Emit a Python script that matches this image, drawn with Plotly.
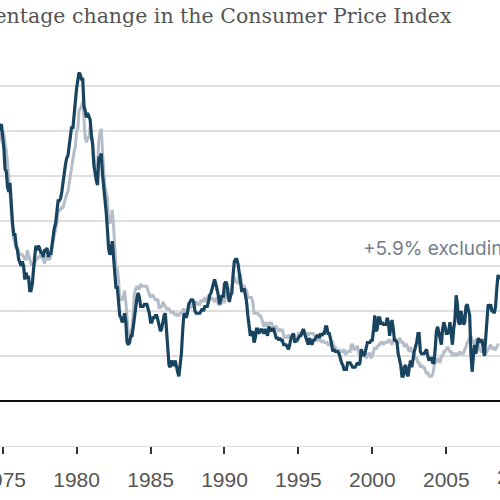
import pandas as pd
import plotly.graph_objects as go

start_month = "1974-09-01"

# Year-over-year % change, all items (monthly, from Sep 1974)
all_items = [
    11.9, 12.1, 12.2, 12.3,                                            # 1974 Sep-Dec
    11.8, 11.2, 10.3, 10.2, 9.5, 9.3, 9.7, 8.6, 7.9, 7.4, 7.4, 6.9,    # 1975
    6.7, 6.3, 6.1, 6.0, 6.2, 6.0, 5.4, 5.7, 5.5, 5.5, 4.9, 4.9,        # 1976
    5.2, 6.0, 6.4, 6.9, 6.7, 6.9, 6.8, 6.6, 6.6, 6.4, 6.7, 6.7,        # 1977
    6.8, 6.4, 6.6, 6.5, 7.0, 7.4, 7.7, 7.9, 8.3, 8.9, 8.9, 9.0,        # 1978
    9.3, 9.9, 10.1, 10.5, 10.8, 10.9, 11.3, 11.8, 12.2, 12.1, 12.6, 13.3,  # 1979
    13.9, 14.2, 14.6, 14.5, 14.3, 14.3, 13.1, 12.9, 12.6, 12.8, 12.6, 12.5,  # 1980
    11.8, 11.4, 10.5, 10.0, 9.8, 9.6, 10.8, 10.8, 11.0, 10.1, 9.6, 8.9,  # 1981
    8.4, 7.6, 6.8, 6.5, 6.7, 7.1, 6.4, 5.9, 5.0, 5.1, 4.6, 3.8,        # 1982
    3.7, 3.5, 3.6, 3.9, 3.5, 2.6, 2.5, 2.6, 2.9, 2.9, 3.3, 3.8,        # 1983
    4.2, 4.6, 4.8, 4.6, 4.2, 4.2, 4.2, 4.3, 4.3, 4.3, 4.1, 3.9,        # 1984
    3.5, 3.5, 3.7, 3.7, 3.8, 3.8, 3.6, 3.3, 3.1, 3.2, 3.5, 3.8,        # 1985
    3.9, 3.1, 2.3, 1.6, 1.5, 1.8, 1.6, 1.6, 1.8, 1.5, 1.3, 1.1,        # 1986
    1.5, 2.1, 3.0, 3.8, 3.9, 3.7, 3.9, 4.3, 4.4, 4.5, 4.5, 4.4,        # 1987
    4.0, 3.9, 3.9, 3.9, 3.9, 4.0, 4.1, 4.0, 4.2, 4.2, 4.2, 4.4,        # 1988
    4.7, 4.8, 5.0, 5.1, 5.4, 5.2, 5.0, 4.7, 4.3, 4.5, 4.7, 4.6,        # 1989
    5.2, 5.3, 5.2, 4.7, 4.4, 4.7, 4.8, 5.6, 6.2, 6.3, 6.3, 6.1,        # 1990
    5.7, 5.3, 4.9, 4.9, 5.0, 4.7, 4.4, 3.8, 3.4, 2.9, 3.0, 3.1,        # 1991
    2.6, 2.8, 3.2, 3.2, 3.0, 3.1, 3.2, 3.1, 3.0, 3.2, 3.0, 2.9,        # 1992
    3.3, 3.2, 3.1, 3.2, 3.2, 3.0, 2.8, 2.8, 2.7, 2.8, 2.7, 2.7,        # 1993
    2.5, 2.5, 2.5, 2.4, 2.3, 2.5, 2.8, 2.9, 3.0, 2.6, 2.7, 2.7,        # 1994
    2.8, 2.9, 2.9, 3.1, 3.2, 3.0, 2.8, 2.6, 2.5, 2.8, 2.6, 2.5,        # 1995
    2.7, 2.7, 2.8, 2.9, 2.9, 2.8, 3.0, 2.9, 3.0, 3.0, 3.3, 3.3,        # 1996
    3.0, 3.0, 2.8, 2.5, 2.2, 2.3, 2.2, 2.2, 2.2, 2.1, 1.8, 1.7,        # 1997
    1.6, 1.4, 1.4, 1.4, 1.7, 1.7, 1.7, 1.6, 1.5, 1.5, 1.5, 1.6,        # 1998
    1.7, 1.6, 1.7, 2.3, 2.1, 2.0, 2.1, 2.3, 2.6, 2.6, 2.6, 2.7,        # 1999
    2.7, 3.2, 3.8, 3.1, 3.2, 3.7, 3.7, 3.4, 3.5, 3.4, 3.4, 3.4,        # 2000
    3.7, 3.5, 2.9, 3.3, 3.6, 3.2, 2.7, 2.7, 2.6, 2.1, 1.9, 1.6,        # 2001
    1.1, 1.1, 1.5, 1.6, 1.2, 1.1, 1.5, 1.8, 1.5, 2.0, 2.2, 2.4,        # 2002
    2.6, 3.0, 3.0, 2.2, 2.1, 2.1, 2.1, 2.2, 2.3, 2.0, 1.8, 1.9,        # 2003
    1.9, 1.7, 1.7, 2.3, 3.1, 3.3, 3.0, 2.7, 2.5, 3.2, 3.5, 3.3,        # 2004
    3.0, 3.0, 3.1, 3.5, 2.8, 2.5, 3.2, 3.6, 4.7, 4.3, 3.5, 3.4,        # 2005
    4.0, 3.6, 3.4, 3.5, 4.2, 4.3, 4.1, 3.8, 2.1, 1.3, 2.0, 2.5,        # 2006
    2.1, 2.4, 2.8, 2.6, 2.7, 2.7, 2.4, 2.0, 2.8, 3.5, 4.3, 4.1,        # 2007
    4.3, 4.0, 4.0, 3.9, 4.2, 5.0, 5.6, 5.4,                            # 2008 Jan-Aug
]

# Year-over-year % change, excluding food and energy (monthly, from Sep 1974)
core = [
    11.2, 11.5, 11.8, 11.9,                                            # 1974 Sep-Dec
    12.0, 11.8, 11.5, 11.1, 10.6, 10.0, 9.2, 8.4, 7.6, 7.2, 7.0, 6.8,  # 1975
    6.8, 6.6, 6.5, 6.5, 6.5, 6.4, 6.3, 6.3, 6.7, 6.5, 6.3, 6.1,        # 1976
    6.1, 6.0, 6.1, 6.3, 6.3, 6.4, 6.4, 6.5, 6.4, 6.3, 6.1, 6.4,        # 1977
    6.3, 6.3, 6.3, 6.4, 6.8, 7.1, 7.4, 7.6, 7.9, 8.4, 8.5, 8.5,        # 1978
    8.6, 8.6, 8.8, 8.9, 9.2, 9.3, 9.7, 10.1, 10.4, 10.8, 11.1, 11.3,   # 1979
    12.0, 12.1, 12.9, 13.0, 13.1, 13.3, 12.4, 11.7, 11.5, 11.7, 11.7, 12.2,  # 1980
    11.9, 11.5, 10.9, 10.4, 10.1, 10.2, 11.6, 11.9, 12.1, 11.1, 10.1, 9.5,   # 1981
    9.3, 9.0, 8.1, 7.9, 8.0, 8.5, 7.8, 7.0, 5.9, 5.9, 5.4, 4.5,        # 1982
    4.5, 4.5, 4.7, 4.9, 4.4, 3.4, 3.0, 3.0, 3.1, 3.2, 4.0, 4.8,        # 1983
    5.0, 5.1, 5.0, 5.0, 5.2, 5.1, 5.1, 5.1, 5.1, 5.1, 4.9, 4.7,        # 1984
    4.6, 4.7, 4.7, 4.6, 4.5, 4.5, 4.5, 4.1, 4.2, 4.2, 4.4, 4.3,        # 1985
    4.2, 4.1, 4.1, 4.1, 4.0, 3.9, 4.0, 3.9, 3.8, 3.9, 3.8, 3.8,        # 1986
    3.9, 3.9, 4.0, 4.1, 4.0, 4.0, 4.0, 4.2, 4.1, 4.3, 4.2, 4.2,        # 1987
    4.4, 4.4, 4.3, 4.3, 4.3, 4.5, 4.4, 4.5, 4.6, 4.4, 4.5, 4.7,        # 1988
    4.6, 4.5, 4.6, 4.5, 4.4, 4.5, 4.6, 4.3, 4.3, 4.3, 4.5, 4.4,        # 1989
    4.4, 4.6, 4.9, 4.8, 4.8, 5.0, 5.0, 5.5, 5.5, 5.3, 5.3, 5.2,        # 1990
    5.6, 5.6, 5.2, 5.1, 5.1, 5.0, 4.9, 4.6, 4.6, 4.6, 4.6, 4.4,        # 1991
    3.9, 3.9, 3.9, 3.9, 3.8, 3.8, 3.7, 3.5, 3.3, 3.5, 3.4, 3.3,        # 1992
    3.5, 3.4, 3.5, 3.3, 3.2, 3.3, 3.3, 3.2, 3.1, 3.2, 3.1, 3.2,        # 1993
    2.9, 2.8, 2.9, 2.8, 2.9, 2.9, 2.9, 2.9, 3.0, 2.9, 2.8, 2.6,        # 1994
    3.0, 3.0, 3.0, 3.1, 3.1, 3.1, 3.0, 3.0, 2.9, 3.0, 3.0, 3.0,        # 1995
    3.0, 2.9, 2.8, 2.7, 2.7, 2.7, 2.7, 2.6, 2.7, 2.6, 2.6, 2.6,        # 1996
    2.5, 2.5, 2.5, 2.7, 2.5, 2.4, 2.4, 2.2, 2.2, 2.3, 2.2, 2.2,        # 1997
    2.2, 2.3, 2.1, 2.1, 2.2, 2.2, 2.2, 2.5, 2.5, 2.3, 2.3, 2.4,        # 1998
    2.4, 2.1, 2.1, 2.2, 2.0, 2.1, 2.1, 1.9, 2.0, 2.1, 2.1, 1.9,        # 1999
    2.0, 2.2, 2.4, 2.3, 2.4, 2.5, 2.5, 2.6, 2.6, 2.5, 2.6, 2.6,        # 2000
    2.6, 2.7, 2.7, 2.6, 2.5, 2.7, 2.7, 2.7, 2.6, 2.6, 2.8, 2.7,        # 2001
    2.6, 2.6, 2.4, 2.5, 2.5, 2.3, 2.2, 2.4, 2.2, 2.2, 2.0, 1.9,        # 2002
    1.9, 1.7, 1.7, 1.5, 1.6, 1.5, 1.5, 1.3, 1.2, 1.3, 1.1, 1.1,        # 2003
    1.1, 1.2, 1.6, 1.8, 1.7, 1.9, 1.8, 1.7, 2.0, 2.0, 2.2, 2.2,        # 2004
    2.3, 2.4, 2.3, 2.2, 2.2, 2.0, 2.1, 2.1, 2.0, 2.1, 2.1, 2.2,        # 2005
    2.1, 2.1, 2.1, 2.3, 2.4, 2.6, 2.7, 2.8, 2.9, 2.7, 2.6, 2.6,        # 2006
    2.7, 2.7, 2.5, 2.3, 2.2, 2.2, 2.2, 2.1, 2.1, 2.2, 2.3, 2.4,        # 2007
    2.5, 2.3, 2.4, 2.3, 2.3, 2.4, 2.5, 2.5,                            # 2008 Jan-Aug
]

tick_years = [1975, 1980, 1985, 1990, 1995, 2000, 2005]
edge_year_label = "2010"
grid_values = [2, 4, 6, 8, 10, 12, 14]

title_text = "Year-over-year percentage change in the Consumer Price Index"
label_text = "+5.9% excluding food and energy"

x_start, x_end = "1974-10-27", "2008-08-19"

months = pd.date_range(start_month, periods=len(all_items), freq="MS")

# paper position of the 2010 label (beyond the visible range)
t0 = pd.Timestamp(x_start)
t1 = pd.Timestamp(x_end)
edge_x = (pd.Timestamp(f"{edge_year_label}-01-01") - t0) / (t1 - t0)

fig = go.Figure()
fig.add_trace(go.Scatter(
    x=months, y=core, mode="lines",
    line=dict(color="#b5bdc9", width=3), hoverinfo="skip",
))
fig.add_trace(go.Scatter(
    x=months, y=all_items, mode="lines",
    line=dict(color="#19445f", width=3.2), hoverinfo="skip",
))

tick_font = dict(family="Liberation Sans, Arial, sans-serif", size=21, color="#555555")

fig.update_layout(
    width=500, height=500,
    margin=dict(l=0, r=0, t=0, b=54, autoexpand=False),
    paper_bgcolor="white", plot_bgcolor="white",
    showlegend=False,
    xaxis=dict(
        type="date",
        range=[x_start, x_end],
        tickvals=[f"{y}-01-01" for y in tick_years],
        ticktext=[str(y) for y in tick_years],
        showgrid=False, zeroline=False,
        showline=True, linecolor="#dcdcdc", linewidth=1,
        ticks="outside", ticklen=7, tickwidth=1.5, tickcolor="#333333",
        tickfont=tick_font,
        ticklabeloverflow="allow",
        ticklabelstandoff=8,
        automargin=False,
    ),
    yaxis=dict(
        range=[-2, 17.822],
        tickvals=grid_values,
        showticklabels=False,
        showgrid=True, gridcolor="#dedede", gridwidth=1.5,
        zeroline=True, zerolinecolor="#111111", zerolinewidth=1.5,
        showline=False, fixedrange=True, automargin=False,
    ),
    annotations=[
        dict(text=title_text, xref="paper", yref="paper",
             x=454 / 500, y=1 - 16 / 446, xanchor="right", yanchor="middle",
             showarrow=False,
             font=dict(family="DejaVu Serif", size=20.5, color="#555555")),
        dict(text=label_text, xref="paper", yref="y",
             x=361 / 500, y=(401 - 248) / 22.5, xanchor="left", yanchor="middle",
             showarrow=False,
             font=dict(family="Inter", size=19, color="#737f8b")),
        dict(text=edge_year_label, xref="paper", yref="paper",
             x=edge_x, y=-(476.5 - 446) / 446, xanchor="center", yanchor="middle",
             showarrow=False, font=tick_font),
    ],
)

fig.write_html(
    "out.html",
    config={"displayModeBar": False},
    post_script="document.body.style.margin='0';document.body.style.padding='0';",
)
